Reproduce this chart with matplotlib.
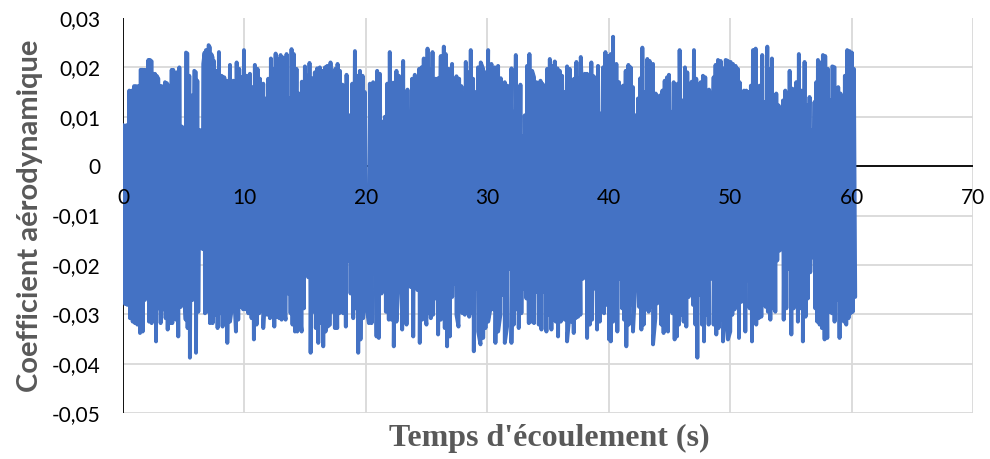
import numpy as np
import matplotlib.pyplot as plt
import matplotlib.transforms as mtransforms

# crêtes supérieures du signal (temps en s, coefficient)
t_haut = [0.03, 0.52, 0.91, 1.45, 1.95, 2.09, 2.50, 2.91, 3.05, 3.46, 3.81, 4.01, 4.42, 4.64, 4.86,
          5.19, 5.46, 5.65, 5.87, 6.12, 6.34, 6.61, 6.83, 7.05, 7.27, 7.49, 7.68, 7.90, 8.12, 8.34,
          8.53, 8.81, 9.08, 9.36, 9.57, 9.77, 9.96, 10.18, 10.45, 10.64, 10.86, 11.08, 11.28, 11.55,
          11.77, 11.96, 12.18, 12.37, 12.57, 12.78, 12.98, 13.20, 13.47, 13.69, 13.88, 14.07, 14.29,
          14.49, 14.73, 14.98, 15.17, 15.36, 15.61, 15.80, 15.99, 16.21, 16.43, 16.63, 16.82, 17.09,
          17.31, 17.48, 17.67, 17.86, 18.08, 18.27, 18.41, 18.63, 18.88, 19.10, 19.29, 19.51, 19.73,
          19.92, 20.33, 20.60, 20.74, 20.93, 21.15, 21.34, 21.57, 21.76, 21.97, 22.25, 22.52, 22.72,
          22.88, 23.07, 23.26, 23.43, 23.62, 23.81, 24.03, 24.25, 24.39, 24.58, 24.77, 25.08, 25.30,
          25.49, 25.73, 25.95, 26.17, 26.42, 26.58, 26.83, 27.10, 27.27, 27.46, 27.68, 27.87, 28.07,
          28.23, 28.42, 28.64, 28.83, 29.03, 29.24, 29.46, 29.66, 29.85, 30.07, 30.34, 30.62, 30.89,
          31.11, 31.30, 31.44, 31.66, 31.80, 31.99, 32.18, 32.35, 32.54, 32.73, 32.95, 33.09, 33.28,
          33.47, 33.69, 33.85, 34.05, 34.18, 34.38, 34.54, 34.73, 34.93, 35.15, 35.34, 35.56, 35.78,
          35.97, 36.16, 36.38, 36.57, 36.79, 36.98, 37.15, 37.34, 37.53, 37.70, 37.89, 38.03, 38.22,
          38.38, 38.57, 38.77, 38.93, 39.12, 39.40, 39.53, 39.73, 39.95, 40.17, 40.36, 40.63, 40.85,
          41.04, 41.18, 41.40, 41.62, 41.81, 42.00, 42.22, 42.41, 42.60, 42.77, 42.99, 43.18, 43.37,
          43.51, 43.65, 43.87, 44.06, 44.20, 44.42, 44.61, 44.80, 44.96, 45.16, 45.35, 45.57, 45.70,
          45.84, 46.06, 46.28, 46.47, 46.67, 46.83, 47.02, 47.21, 47.38, 47.57, 47.76, 47.95, 48.09,
          48.26, 48.45, 48.64, 48.80, 49.00, 49.22, 49.41, 49.63, 49.82, 50.04, 50.23, 50.45, 50.64,
          50.78, 50.97, 51.14, 51.33, 51.52, 51.71, 51.88, 52.10, 52.29, 52.42, 52.64, 52.84, 53.06,
          53.25, 53.44, 53.61, 53.80, 53.99, 54.16, 54.35, 54.54, 54.70, 54.90, 55.12, 55.31, 55.44,
          55.66, 55.86, 55.99, 56.13, 56.32, 56.54, 56.73, 56.95, 57.09, 57.23, 57.42, 57.64, 57.83,
          58.05, 58.24, 58.41, 58.60, 58.74, 58.90, 59.09, 59.28, 59.45, 59.64, 59.83, 60.02, 60.19,
          # plateaux du début
          0.30, 0.74, 1.07, 1.26, 1.62, 1.81, 2.22, 2.36, 2.63, 2.77, 3.18, 3.32, 3.62, 4.14, 4.28,
          5.30, 6.00, 6.72, 7.16, 7.38]
cl_haut = [0.0083, 0.0153, 0.0162, 0.0195, 0.0117, 0.0215, 0.0187, 0.0177, 0.0162, 0.0170, 0.0163,
           0.0195, 0.0190, 0.0200, 0.0080, 0.0230, 0.0183, 0.0143, 0.0193, 0.0173, 0.0073, 0.0207,
           0.0235, 0.0245, 0.0227, 0.0213, 0.0193, 0.0231, 0.0183, 0.0180, 0.0173, 0.0205, 0.0173,
           0.0210, 0.0197, 0.0180, 0.0235, 0.0183, 0.0187, 0.0160, 0.0205, 0.0197, 0.0177, 0.0167,
           0.0137, 0.0177, 0.0218, 0.0197, 0.0228, 0.0217, 0.0225, 0.0220, 0.0227, 0.0137, 0.0237,
           0.0227, 0.0197, 0.0147, 0.0171, 0.0202, 0.0183, 0.0209, 0.0178, 0.0190, 0.0198, 0.0200,
           0.0193, 0.0200, 0.0203, 0.0210, 0.0190, 0.0197, 0.0207, 0.0193, 0.0165, 0.0133, 0.0185,
           0.0103, 0.0167, 0.0233, 0.0183, 0.0193, 0.0183, 0.0150, 0.0167, 0.0170, 0.0153, 0.0193,
           0.0187, 0.0090, 0.0100, 0.0167, 0.0231, 0.0169, 0.0193, 0.0183, 0.0147, 0.0213, 0.0147,
           0.0155, 0.0100, 0.0177, 0.0185, 0.0110, 0.0197, 0.0200, 0.0218, 0.0238, 0.0197, 0.0231,
           0.0177, 0.0178, 0.0223, 0.0242, 0.0227, 0.0197, 0.0207, 0.0097, 0.0182, 0.0177, 0.0162,
           0.0110, 0.0211, 0.0190, 0.0235, 0.0177, 0.0150, 0.0200, 0.0210, 0.0197, 0.0190, 0.0235,
           0.0207, 0.0200, 0.0203, 0.0178, 0.0117, 0.0170, 0.0163, 0.0158, 0.0198, 0.0110, 0.0225,
           0.0160, 0.0165, 0.0060, 0.0103, 0.0203, 0.0227, 0.0193, 0.0180, 0.0170, 0.0150, 0.0173,
           0.0167, 0.0163, 0.0197, 0.0217, 0.0203, 0.0212, 0.0198, 0.0193, 0.0183, 0.0150, 0.0202,
           0.0197, 0.0153, 0.0177, 0.0211, 0.0177, 0.0221, 0.0083, 0.0187, 0.0187, 0.0160, 0.0210,
           0.0182, 0.0160, 0.0203, 0.0107, 0.0200, 0.0231, 0.0223, 0.0227, 0.0262, 0.0207, 0.0170,
           0.0120, 0.0163, 0.0193, 0.0205, 0.0200, 0.0160, 0.0103, 0.0137, 0.0178, 0.0240, 0.0150,
           0.0217, 0.0213, 0.0153, 0.0207, 0.0147, 0.0083, 0.0143, 0.0153, 0.0173, 0.0180, 0.0185,
           0.0110, 0.0170, 0.0165, 0.0167, 0.0235, 0.0133, 0.0200, 0.0190, 0.0077, 0.0171, 0.0235,
           0.0177, 0.0143, 0.0170, 0.0183, 0.0180, 0.0147, 0.0155, 0.0127, 0.0180, 0.0205, 0.0215,
           0.0213, 0.0198, 0.0215, 0.0213, 0.0211, 0.0207, 0.0203, 0.0197, 0.0170, 0.0077, 0.0153,
           0.0153, 0.0150, 0.0163, 0.0235, 0.0238, 0.0103, 0.0163, 0.0225, 0.0130, 0.0242, 0.0197,
           0.0218, 0.0143, 0.0147, 0.0123, 0.0107, 0.0133, 0.0153, 0.0147, 0.0193, 0.0157, 0.0140,
           0.0170, 0.0227, 0.0153, 0.0100, 0.0211, 0.0123, 0.0140, 0.0073, 0.0130, 0.0170, 0.0215,
           0.0210, 0.0225, 0.0223, 0.0197, 0.0133, 0.0202, 0.0200, 0.0097, 0.0160, 0.0147, 0.0117,
           0.0183, 0.0235, 0.0233, 0.0230, 0.0197,
           0.0083, 0.0153, 0.0162, 0.0162, 0.0195, 0.0195, 0.0215, 0.0212, 0.0187, 0.0183, 0.0162,
           0.0160, 0.0168, 0.0195, 0.0185, 0.0228, 0.0190, 0.0230, 0.0240, 0.0220]

# creux inférieurs du signal
t_bas = [0.00, 0.16, 0.36, 0.58, 0.80, 0.99, 1.18, 1.40, 1.62, 1.81, 2.00, 2.14, 2.36, 2.55, 2.72,
         2.91, 3.10, 3.32, 3.51, 3.68, 3.87, 4.06, 4.22, 4.36, 4.55, 4.77, 4.97, 5.16, 5.32, 5.51,
         5.73, 6.01, 6.20, 6.39, 6.56, 6.75, 6.94, 7.16, 7.38, 7.57, 7.79, 7.98, 8.20, 8.40, 8.59,
         8.81, 9.00, 9.16, 9.30, 9.49, 9.68, 9.90, 10.12, 10.32, 10.45, 10.59, 10.78, 11.00, 11.22,
         11.36, 11.55, 11.74, 11.88, 12.10, 12.32, 12.46, 12.65, 12.87, 13.06, 13.20, 13.39, 13.61,
         13.80, 13.96, 14.16, 14.35, 14.51, 14.71, 14.90, 15.06, 15.25, 15.45, 15.67, 15.88, 16.08,
         16.30, 16.49, 16.68, 16.85, 17.04, 17.23, 17.45, 17.64, 17.81, 17.94, 18.13, 18.35, 18.57,
         18.74, 18.96, 19.15, 19.37, 19.56, 19.78, 20.05, 20.25, 20.47, 20.69, 20.88, 21.07, 21.29,
         21.48, 21.65, 21.89, 22.11, 22.30, 22.52, 22.69, 22.80, 22.99, 23.16, 23.35, 23.54, 23.70,
         23.90, 24.09, 24.25, 24.44, 24.64, 24.80, 24.99, 25.19, 25.35, 25.54, 25.73, 25.95, 26.17,
         26.31, 26.50, 26.69, 26.91, 27.11, 27.27, 27.46, 27.63, 27.79, 27.96, 28.15, 28.34, 28.51,
         28.70, 28.89, 29.11, 29.25, 29.44, 29.66, 29.85, 30.07, 30.29, 30.48, 30.67, 30.89, 31.08,
         31.25, 31.44, 31.63, 31.80, 31.99, 32.18, 32.40, 32.59, 32.81, 32.95, 33.03, 33.22, 33.42,
         33.64, 33.85, 34.05, 34.24, 34.46, 34.65, 34.87, 35.09, 35.28, 35.47, 35.64, 35.83, 36.05,
         36.24, 36.38, 36.57, 36.74, 36.93, 37.12, 37.28, 37.48, 37.67, 37.89, 38.03, 38.22, 38.44,
         38.63, 38.85, 39.04, 39.26, 39.45, 39.62, 39.81, 40.03, 40.17, 40.36, 40.55, 40.71, 40.90,
         41.10, 41.26, 41.45, 41.65, 41.81, 42.00, 42.19, 42.33, 42.50, 42.69, 42.88, 43.10, 43.29,
         43.46, 43.65, 43.84, 44.00, 44.14, 44.33, 44.52, 44.69, 44.88, 45.08, 45.24, 45.43, 45.62,
         45.79, 45.98, 46.17, 46.39, 46.59, 46.75, 46.94, 47.14, 47.30, 47.49, 47.68, 47.85, 48.04,
         48.23, 48.45, 48.64, 48.86, 49.05, 49.22, 49.41, 49.60, 49.82, 50.01, 50.18, 50.37, 50.56,
         50.73, 50.92, 51.06, 51.25, 51.41, 51.61, 51.80, 51.96, 52.15, 52.35, 52.57, 52.76, 52.92,
         53.11, 53.31, 53.53, 53.72, 53.88, 54.08, 54.27, 54.41, 54.63, 54.84, 55.04, 55.23, 55.39,
         55.58, 55.77, 55.99, 56.21, 56.40, 56.60, 56.82, 57.01, 57.17, 57.37, 57.56, 57.78, 58.00,
         58.19, 58.38, 58.60, 58.79, 59.01, 59.20, 59.37, 59.56, 59.75, 59.92, 60.10, 60.30]
cl_bas = [-0.0158, -0.0279, -0.0281, -0.0308, -0.0315, -0.0318, -0.0321, -0.0338, -0.0335, -0.0271,
          -0.0208, -0.0315, -0.0318, -0.0311, -0.0355, -0.0288, -0.0318, -0.0290, -0.0308, -0.0331,
          -0.0318, -0.0318, -0.0228, -0.0311, -0.0345, -0.0285, -0.0221, -0.0311, -0.0328, -0.0388,
          -0.0271, -0.0378, -0.0295, -0.0128, -0.0168, -0.0298, -0.0295, -0.0318, -0.0318, -0.0301,
          -0.0328, -0.0298, -0.0325, -0.0288, -0.0358, -0.0315, -0.0281, -0.0261, -0.0335, -0.0311,
          -0.0285, -0.0290, -0.0290, -0.0298, -0.0205, -0.0308, -0.0351, -0.0321, -0.0298, -0.0285,
          -0.0328, -0.0231, -0.0301, -0.0308, -0.0231, -0.0325, -0.0305, -0.0308, -0.0311, -0.0281,
          -0.0311, -0.0258, -0.0298, -0.0321, -0.0335, -0.0335, -0.0290, -0.0335, -0.0288, -0.0171,
          -0.0225, -0.0378, -0.0295, -0.0328, -0.0358, -0.0318, -0.0365, -0.0335, -0.0325, -0.0321,
          -0.0295, -0.0328, -0.0328, -0.0298, -0.0271, -0.0298, -0.0325, -0.0191, -0.0258, -0.0308,
          -0.0288, -0.0378, -0.0351, -0.0308, -0.0285, -0.0318, -0.0318, -0.0218, -0.0345, -0.0348,
          -0.0258, -0.0145, -0.0295, -0.0311, -0.0311, -0.0365, -0.0315, -0.0241, -0.0245, -0.0331,
          -0.0288, -0.0321, -0.0221, -0.0245, -0.0345, -0.0238, -0.0251, -0.0358, -0.0311, -0.0285,
          -0.0321, -0.0298, -0.0308, -0.0301, -0.0268, -0.0341, -0.0311, -0.0290, -0.0328, -0.0365,
          -0.0345, -0.0265, -0.0238, -0.0301, -0.0325, -0.0225, -0.0298, -0.0301, -0.0191, -0.0305,
          -0.0298, -0.0375, -0.0248, -0.0335, -0.0361, -0.0348, -0.0328, -0.0315, -0.0285, -0.0290,
          -0.0358, -0.0335, -0.0301, -0.0261, -0.0358, -0.0325, -0.0208, -0.0358, -0.0321, -0.0290,
          -0.0328, -0.0298, -0.0248, -0.0128, -0.0268, -0.0318, -0.0315, -0.0318, -0.0255, -0.0321,
          -0.0331, -0.0255, -0.0335, -0.0301, -0.0331, -0.0311, -0.0315, -0.0345, -0.0315, -0.0258,
          -0.0311, -0.0355, -0.0308, -0.0315, -0.0338, -0.0308, -0.0305, -0.0301, -0.0228, -0.0188,
          -0.0348, -0.0321, -0.0311, -0.0248, -0.0331, -0.0315, -0.0195, -0.0298, -0.0281, -0.0351,
          -0.0355, -0.0315, -0.0301, -0.0335, -0.0228, -0.0288, -0.0311, -0.0365, -0.0321, -0.0281,
          -0.0335, -0.0245, -0.0205, -0.0285, -0.0331, -0.0321, -0.0290, -0.0295, -0.0285, -0.0361,
          -0.0308, -0.0278, -0.0188, -0.0321, -0.0338, -0.0315, -0.0335, -0.0251, -0.0298, -0.0351,
          -0.0345, -0.0321, -0.0301, -0.0315, -0.0325, -0.0265, -0.0231, -0.0281, -0.0321, -0.0388,
          -0.0261, -0.0321, -0.0355, -0.0301, -0.0321, -0.0228, -0.0321, -0.0341, -0.0328, -0.0311,
          -0.0355, -0.0308, -0.0351, -0.0335, -0.0301, -0.0290, -0.0275, -0.0348, -0.0275, -0.0165,
          -0.0335, -0.0231, -0.0288, -0.0355, -0.0301, -0.0321, -0.0308, -0.0305, -0.0225, -0.0285,
          -0.0295, -0.0311, -0.0288, -0.0295, -0.0191, -0.0171, -0.0125, -0.0311, -0.0288, -0.0208,
          -0.0341, -0.0288, -0.0238, -0.0315, -0.0288, -0.0355, -0.0305, -0.0268, -0.0215, -0.0185,
          -0.0288, -0.0315, -0.0321, -0.0328, -0.0351, -0.0348, -0.0295, -0.0298, -0.0315, -0.0271,
          -0.0348, -0.0305, -0.0315, -0.0321, -0.0308, -0.0298, -0.0295, -0.0265]

x_ticks = [0, 10, 20, 30, 40, 50, 60, 70]
y_ticks = [-0.05, -0.04, -0.03, -0.02, -0.01, 0.0, 0.01, 0.02, 0.03]
y_labels = ['-0,05', '-0,04', '-0,03', '-0,02', '-0,01', '0', '0,01', '0,02', '0,03']

# assemble the series in time order
t = np.concatenate([t_haut, t_bas])
cl = np.concatenate([cl_haut, cl_bas])
order = np.argsort(t, kind='stable')
t, cl = t[order], cl[order]

fig = plt.figure(figsize=(9.9, 4.59), dpi=100)
ax = fig.add_axes([123 / 990, 1 - 413 / 459, 850 / 990, 395 / 459])

# grid drawn by hand so the tick labels can stay above the signal (none on the top edge)
for y in y_ticks[:-1]:
    ax.axhline(y, color='#d9d9d9', linewidth=1.3, zorder=0.5)
for x in x_ticks:
    ax.axvline(x, color='#d9d9d9', linewidth=1.3, zorder=0.5)
ax.axhline(0, color='black', linewidth=1.3, zorder=1.5)
ax.axvline(0, color='black', linewidth=1.3, zorder=1.5)

ax.plot(t, cl, color='#4472C4', linewidth=2.8, solid_joinstyle='round',
        solid_capstyle='round', zorder=2)

ax.set_xlim(0, 70)
ax.set_ylim(-0.05, 0.03)
ax.set_xticks(x_ticks)
ax.set_yticks(y_ticks)
ax.set_yticklabels(y_labels)
ax.set_axisbelow(False)
for s in ax.spines.values():
    s.set_visible(False)

ax.tick_params(axis='both', length=0, labelsize=15, labelfontfamily='Lato', labelcolor='black')
ax.tick_params(axis='y', pad=16)
# x tick labels sit just under the zero line
for tick in ax.xaxis.get_major_ticks():
    tick.label1.set_transform(mtransforms.blended_transform_factory(ax.transData, ax.transData)
                              + mtransforms.ScaledTranslation(0, -16 / 72, fig.dpi_scale_trans))
    tick.label1.set_y(0.0)
    tick.label1.set_verticalalignment('top')

fig.text(30 / 990, 1 - 215.5 / 459, 'Coefficient aérodynamique', rotation=90,
         ha='center', va='center', fontsize=21, fontweight='bold', family='Lato', color='#595959')
fig.text(549 / 990, 1 - 438 / 459, "Temps d'écoulement (s)", ha='center', va='center',
         fontsize=23, fontweight='bold', family='Liberation Serif', color='#595959')

fig.savefig('out.png', dpi=100)
